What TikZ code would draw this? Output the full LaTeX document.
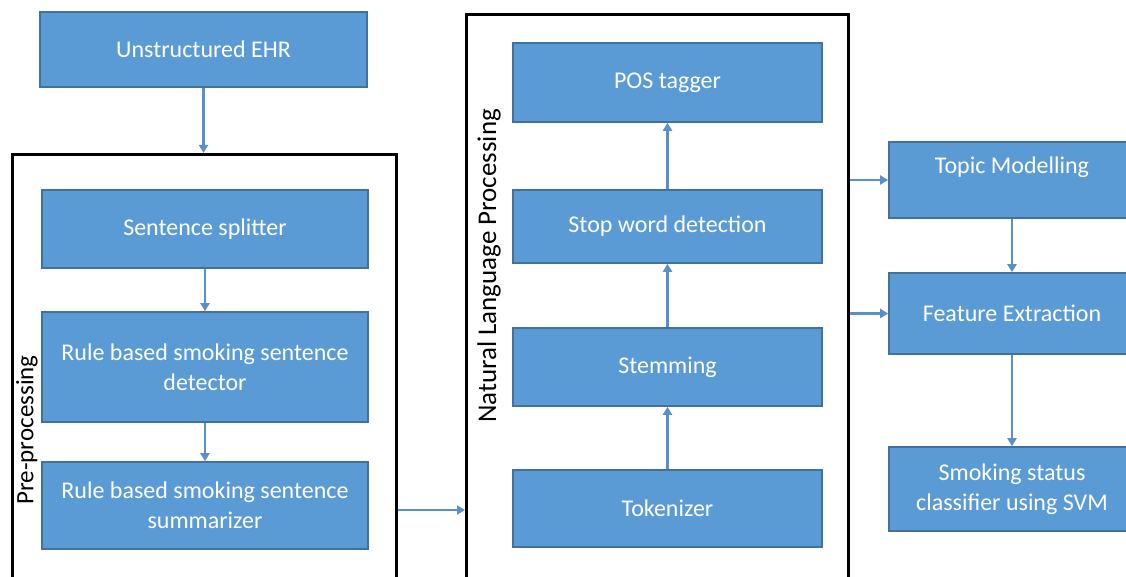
\documentclass[tikz,border=0pt]{standalone}
\usepackage{fontspec}
\setmainfont{Carlito}
\usetikzlibrary{arrows.meta}
\definecolor{boxfill}{HTML}{5B9BD5}
\definecolor{boxline}{HTML}{41719C}
\definecolor{arrowc}{HTML}{5B8FC9}
\tikzset{
  bluebox/.style={draw=boxline, line width=1.6pt, fill=boxfill, text=white,
    font=\fontsize{24}{30}\selectfont, align=center, inner sep=0pt},
  frame/.style={draw=black, line width=2.6pt, fill=none},
  flow/.style={draw=arrowc, line width=2.2pt, -{Triangle[length=8pt,width=9pt]}},
  sidelabel/.style={rotate=90, text=black, inner sep=0pt}
}
\begin{document}
\begin{tikzpicture}[x=1pt,y=-1pt]
\clip (0,0) rectangle (1126,577);
\fill[white] (0,0) rectangle (1126,577);
% frames
\node[frame, minimum width=384pt, minimum height=437pt, anchor=north west] (pre) at (11,153) {};
\node[frame, minimum width=382pt, minimum height=577pt, anchor=north west] (nlp) at (465,13) {};
% boxes left
\node[bluebox, minimum width=327pt, minimum height=75pt] (ehr) at (203.5,49.5) {Unstructured EHR};
\node[bluebox, minimum width=326pt, minimum height=78pt] (split) at (205,229) {Sentence splitter};
\node[bluebox, minimum width=326pt, minimum height=110pt] (detect) at (205,367) {Rule based smoking sentence\\detector};
\node[bluebox, minimum width=326pt, minimum height=87pt] (summ) at (205,505.5) {Rule based smoking sentence\\summarizer};
% NLP boxes
\node[bluebox, minimum width=309pt, minimum height=79pt] (pos) at (667.5,82.5) {POS tagger};
\node[bluebox, minimum width=309pt, minimum height=73pt] (stop) at (667.5,226.5) {Stop word detection};
\node[bluebox, minimum width=309pt, minimum height=78pt] (stem) at (667.5,367) {Stemming};
\node[bluebox, minimum width=309pt, minimum height=77pt] (tok) at (667.5,508.5) {Tokenizer};
% right boxes
\node[bluebox, minimum width=246pt, minimum height=76pt] (topic) at (1012,180) {Topic Modelling\\\mbox{}};
\node[bluebox, minimum width=246pt, minimum height=81pt] (feat) at (1012,313.5) {Feature Extraction};
\node[bluebox, minimum width=246pt, minimum height=84pt] (svm) at (1012,489) {Smoking status\\classifier using SVM};
% labels
\node[sidelabel, font=\fontsize{25}{30}\selectfont] (prelab) at (27,430) {Pre-processing};
\node[sidelabel, font=\fontsize{27}{32}\selectfont] (nlplab) at (489,266) {Natural Language Processing};
% coordinates
\coordinate (preTop) at (ehr.south |- pre.north);
\coordinate (preOut) at (pre.east |- 0,510);
\coordinate (nlpIn) at (nlp.west |- 0,510);
\coordinate (nlpOut1) at (nlp.east |- topic.west);
\coordinate (nlpOut2) at (nlp.east |- feat.west);
% arrows
\draw[flow] (ehr.south) -- (preTop);
\draw[flow] (split.south) -- (detect.north);
\draw[flow] (detect.south) -- (summ.north);
\draw[flow] (preOut) -- (nlpIn);
\draw[flow] (tok.north) -- (stem.south);
\draw[flow] (stem.north) -- (stop.south);
\draw[flow] (stop.north) -- (pos.south);
\draw[flow] (nlpOut1) -- (topic.west);
\draw[flow] (nlpOut2) -- (feat.west);
\draw[flow] (topic.south) -- (feat.north);
\draw[flow] (feat.south) -- (svm.north);
\end{tikzpicture}
\end{document}
